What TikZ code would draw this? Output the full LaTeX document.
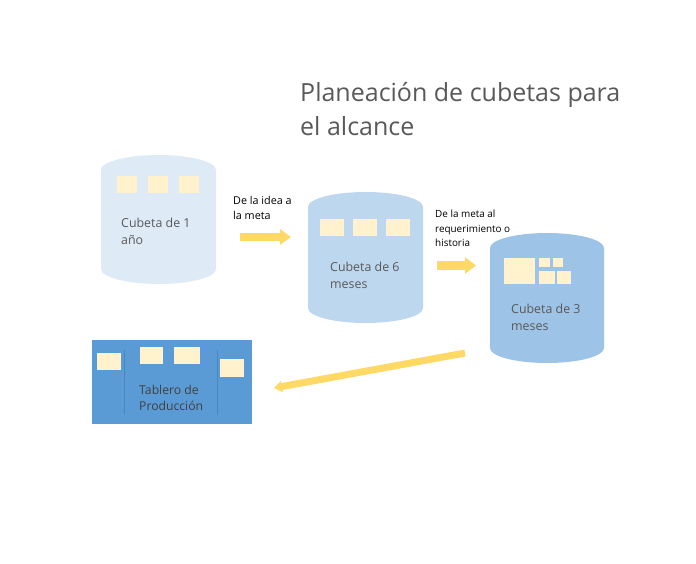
\documentclass[tikz,border=0pt]{standalone}
\usepackage{fontspec}
\setmainfont{Open Sans}
\usetikzlibrary{arrows.meta}
\definecolor{cylA}{HTML}{DEEBF7}
\definecolor{cylB}{HTML}{BDD7EE}
\definecolor{cylC}{HTML}{9DC3E6}
\definecolor{card}{HTML}{FFF2CC}
\definecolor{arrowy}{HTML}{FFD966}
\definecolor{board}{HTML}{5B9BD5}
\definecolor{divider}{HTML}{4A86C0}
\definecolor{txtgray}{HTML}{595959}
\definecolor{txtdark}{HTML}{404040}
\begin{document}
\begin{tikzpicture}[x=1pt,y=-1pt,
  cardbox/.style={fill=card,draw=none},
  cyltext/.style={anchor=base west,align=left,inner sep=0pt,text=txtgray,font=\fontsize{12.4}{16.5}\selectfont},
  lbltext/.style={anchor=base west,align=left,inner sep=0pt,text=black,font=\fontsize{10.8}{15}\selectfont},
  flow/.style={draw=arrowy,line width=8pt,-{Triangle[width=15pt,length=11pt]}}
]
\useasboundingbox (0,0) rectangle (696,564);
% title
\node[anchor=base west,align=left,inner sep=0pt,text=txtgray,font=\fontsize{25}{34}\selectfont] (title) at (300,136) {Planeación de cubetas para\\el alcance};
% cylinder 1
\fill[cylA] (101,170) arc[start angle=180,end angle=360,x radius=57.5,y radius=15] -- (216,269) arc[start angle=0,end angle=180,x radius=57.5,y radius=15] -- cycle;
\fill[cardbox] (117,176) rectangle (137,193);
\fill[cardbox] (148,176) rectangle (168,193);
\fill[cardbox] (179,176) rectangle (199,193);
\node[cyltext] (t1) at (121,244) {Cubeta de 1\\año};
% cylinder 2
\fill[cylB] (308,207) arc[start angle=180,end angle=360,x radius=57.5,y radius=15] -- (423,308) arc[start angle=0,end angle=180,x radius=57.5,y radius=15] -- cycle;
\fill[cardbox] (320,219) rectangle (344,236);
\fill[cardbox] (353,219) rectangle (377,236);
\fill[cardbox] (386,219) rectangle (410,236);
\node[cyltext] (t2) at (330,288) {Cubeta de 6\\meses};
% cylinder 3
\fill[cylC] (490,248) arc[start angle=180,end angle=360,x radius=57,y radius=15] -- (604,348) arc[start angle=0,end angle=180,x radius=57,y radius=15] -- cycle;
\fill[cardbox] (504,258) rectangle (535,284);
\fill[cardbox] (539,258) rectangle (550,267);
\fill[cardbox] (553,258) rectangle (563,267);
\fill[cardbox] (539,271) rectangle (555,284);
\fill[cardbox] (557,271) rectangle (571,284);
\node[cyltext] (t3) at (511,330) {Cubeta de 3\\meses};
% board
\node[fill=board,draw=none,minimum width=160pt,minimum height=84pt,inner sep=0pt] (board) at (172,382) {};
\draw[divider,line width=0.8pt] (124,350) -- (124,415);
\draw[divider,line width=0.8pt] (217,350) -- (217,415);
\fill[cardbox] (97,353) rectangle (121,370);
\fill[cardbox] (140,347) rectangle (163,364);
\fill[cardbox] (174,347) rectangle (200,364);
\fill[cardbox] (220,359) rectangle (244,377);
\node[cyltext,text=txtdark,font=\fontsize{12.2}{15.5}\selectfont] (tb) at (139,410) {Tablero de\\Producción};
% labels
\node[lbltext] (l1) at (233,220) {De la idea a\\la meta};
\node[lbltext,font=\fontsize{9.9}{14.5}\selectfont] (l2) at (435,247) {De la meta al\\requerimiento o\\historia};
% arrows
\coordinate (a1s) at (240,237);
\coordinate (a1e) at (291,237);
\coordinate (a2s) at (437,265.5);
\coordinate (a2e) at (476,265.5);
\coordinate (a3s) at (465,353);
\coordinate (a3e) at (274,388);
\draw[flow] (a1s) -- (a1e);
\draw[flow,line width=9pt,-{Triangle[width=16pt,length=11pt]}] (a2s) -- (a2e);
\draw[flow,line width=7pt,-{Triangle[width=11pt,length=8pt]}] (a3s) -- (a3e);
\end{tikzpicture}
\end{document}
